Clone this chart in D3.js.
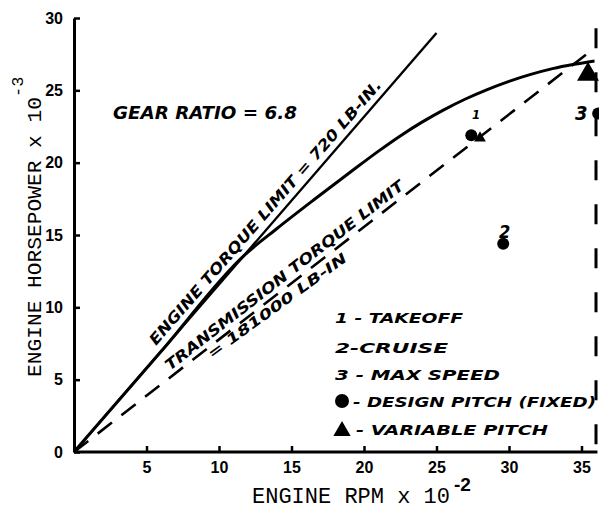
<!DOCTYPE html>
<html><head><meta charset="utf-8">
<script src="https://cdn.jsdelivr.net/npm/d3@7"></script>
<style>body{margin:0;background:#fff}svg{display:block}</style>
</head><body><svg id="c" width="599" height="509"></svg>
<script>
// ---- data ----
const xTickValues = [5, 10, 15, 20, 25, 30, 35];
const yTickValues = [0, 5, 10, 15, 20, 25, 30];
const engineLimitRpm = [0, 25.0];
const engineLimitHp = [0, 28.96];
const transLimitRpm = [0, 35.8];
const transLimitHp = [0, 27.85];
const powerRpm = [0, 6, 11.8, 14, 16.5, 19, 21, 22.5, 24, 25.5, 27, 28.5, 30, 31.5, 33, 34.5, 35.9];
const powerHp = [0, 6.94, 13.65, 15.45, 17.4, 19.3, 20.8, 21.85, 22.8, 23.65, 24.4, 25.05, 25.62, 26.1, 26.5, 26.8, 27.03];
const maxRpm = 36;
const maxRpmLineHp = [29.3, 0];
const designPitchRpm = [27.4, 29.6, 36.15];
const designPitchHp = [21.9, 14.4, 23.4];
const variablePitchRpm = [28.0, 35.45];
const variablePitchHp = [21.7, 26.1];
const conditionLabels = ["1", "2", "3"];
const legendItems = ["1 - TAKEOFF", "2-CRUISE", "3 - MAX SPEED", "- DESIGN PITCH (FIXED)", "- VARIABLE PITCH"];

// ---- drawing ----
const svg = d3.select("#c");
const x = d3.scaleLinear([0, 36], [74, 596]);
const y = d3.scaleLinear([0, 30], [452, 18]);
const hand = "'DejaVu Sans Condensed','DejaVu Sans',sans-serif";
const mono = "'Liberation Mono','Courier New',monospace";
const tickFont = "'Liberation Sans',Arial,sans-serif";

const xAxis = svg.append("g").attr("transform", `translate(0,${y(0)})`)
  .call(d3.axisBottom(x).tickValues(xTickValues).tickSize(-6).tickSizeOuter(0).tickPadding(10).tickFormat(d3.format("d")));
const yAxis = svg.append("g").attr("transform", `translate(${x(0)},0)`)
  .call(d3.axisLeft(y).tickValues(yTickValues).tickSize(-6).tickSizeOuter(0).tickPadding(11).tickFormat(d3.format("d")));
[xAxis, yAxis].forEach(g => {
  g.select(".domain").attr("stroke", "#000").attr("stroke-width", 3);
  g.selectAll(".tick line").attr("stroke", "#000").attr("stroke-width", 2.5);
  g.selectAll(".tick text").attr("fill", "#000").style("font-family", tickFont)
    .style("font-weight", "bold").style("font-size", "16px");
});
xAxis.select(".domain").attr("d", `M${x(0)},0H${x(36.1)}`);

const line = d3.line().x(d => x(d[0])).y(d => y(d[1]));

// engine torque limit
svg.append("path").datum(d3.zip(engineLimitRpm, engineLimitHp)).attr("d", line)
  .attr("fill", "none").attr("stroke", "#000").attr("stroke-width", 2.4);
// transmission torque limit (dashed)
svg.append("path").datum(d3.zip(transLimitRpm, transLimitHp)).attr("d", line)
  .attr("fill", "none").attr("stroke", "#000").attr("stroke-width", 2.6)
  .attr("stroke-dasharray", "18,12");
// power curve
svg.append("path").datum(d3.zip(powerRpm, powerHp))
  .attr("d", d3.line().x(d => x(d[0])).y(d => y(d[1])).curve(d3.curveMonotoneX))
  .attr("fill", "none").attr("stroke", "#000").attr("stroke-width", 3);
// max rpm vertical dashed line
svg.append("path").datum(maxRpmLineHp.map(h => [maxRpm, h])).attr("d", line)
  .attr("fill", "none").attr("stroke", "#000").attr("stroke-width", 3)
  .attr("stroke-dasharray", "20,24");

// design pitch points
svg.selectAll("circle.dp").data(d3.zip(designPitchRpm, designPitchHp)).join("circle")
  .attr("class", "dp").attr("cx", d => x(d[0])).attr("cy", d => y(d[1])).attr("r", 6).attr("fill", "#000");
// variable pitch points
const triSizes = [60, 210];
svg.selectAll("path.vp").data(d3.zip(variablePitchRpm, variablePitchHp)).join("path")
  .attr("class", "vp")
  .attr("transform", d => `translate(${x(d[0])},${y(d[1])})`)
  .attr("d", (d, i) => d3.symbol(d3.symbolTriangle, triSizes[i])())
  .attr("fill", "#000");

// condition labels
const condPos = [[472, 119, 13], [499, 238, 18], [575, 120, 20]];
conditionLabels.forEach((t, i) => {
  svg.append("text").attr("x", condPos[i][0]).attr("y", condPos[i][1]).text(t)
    .style("font-family", hand).style("font-weight", "bold").style("font-style", "italic")
    .style("font-size", condPos[i][2] + "px");
});

function handText(txt, px, py, angle, size, len) {
  svg.append("text").attr("transform", `translate(${px},${py}) rotate(${angle})`)
    .attr("textLength", len).attr("lengthAdjust", "spacingAndGlyphs")
    .style("font-family", hand).style("font-weight", "bold").style("font-style", "italic")
    .style("font-size", size + "px").text(txt);
}
handText("GEAR RATIO = 6.8", 113, 119, 0, 17, 184);
handText("ENGINE TORQUE LIMIT = 720 LB-IN.", 156, 346, -49, 15, 345);
handText("TRANSMISSION TORQUE LIMIT", 170, 371, -37.9, 15, 298);
handText("= 181000 LB-IN", 212, 359, -36, 14, 168);

// legend
const legendRows = [[335, 323, 128], [335, 353, 113], [335, 380, 165], [353, 407, 243], [356, 435, 192]];
legendItems.forEach((t, i) => handText(t, legendRows[i][0], legendRows[i][1], 0, 14, legendRows[i][2]));
svg.append("circle").attr("cx", 342).attr("cy", 401).attr("r", 7).attr("fill", "#000");
svg.append("path").attr("transform", "translate(342,431)").attr("d", d3.symbol(d3.symbolTriangle, 130)()).attr("fill", "#000");

// axis titles
svg.append("text").attr("x", 252).attr("y", 503).attr("textLength", 198).attr("lengthAdjust", "spacingAndGlyphs")
  .style("font-family", mono).style("font-size", "22px").text("ENGINE RPM x 10");
svg.append("text").attr("x", 454).attr("y", 491)
  .style("font-family", tickFont).style("font-weight", "bold").style("font-size", "19px").text("-2");
svg.append("text").attr("transform", "translate(41,377) rotate(-90)").attr("textLength", 280).attr("lengthAdjust", "spacingAndGlyphs")
  .style("font-family", mono).style("font-size", "21px").text("ENGINE HORSEPOWER x 10");
svg.append("text").attr("transform", "translate(23,97) rotate(-90)")
  .style("font-family", mono).style("font-size", "17px").text("-3");
</script></body></html>
